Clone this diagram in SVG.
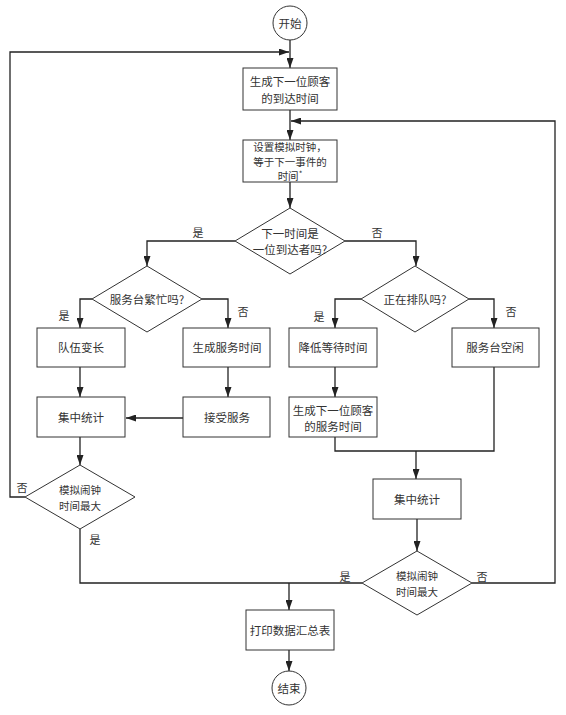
<svg xmlns="http://www.w3.org/2000/svg" width="566" height="715" viewBox="0 0 566 715">
<style>
.n{fill:#fff;stroke:#333;stroke-width:1}
.t{font-family:"Noto Sans CJK SC","Liberation Sans",sans-serif;font-size:11.5px;fill:#333;text-anchor:middle;dominant-baseline:central}
.s{font-size:10.5px}
.l{font-family:"Noto Sans CJK SC","Liberation Sans",sans-serif;font-size:11px;fill:#333;text-anchor:middle;dominant-baseline:central}
.c{fill:none;stroke:#222;stroke-width:1.3}
.a{marker-end:url(#ah)}
</style>
<defs>
<marker id="ah" markerUnits="userSpaceOnUse" markerWidth="10" markerHeight="7" refX="10" refY="3.5" orient="auto">
<path d="M0,0 L10,3.5 L0,7 z" fill="#222"/>
</marker>
</defs>
<rect width="566" height="715" fill="#fff"/>
<g id="connectors">
<path class="c a" d="M290,40 V68"/>
<path class="c a" d="M25,497 H10 V52 H289"/>
<path class="c a" d="M290,110 V140"/>
<path class="c a" d="M472,583 H555 V121 H291"/>
<path class="c a" d="M290,182 V208"/>
<path class="c a" d="M235,241 H147 V266"/>
<path class="c a" d="M345,241 H416 V266"/>
<path class="c a" d="M92,299 H80 V328"/>
<path class="c a" d="M202,299 H228 V328"/>
<path class="c a" d="M80,367 V397"/>
<path class="c a" d="M228,367 V397"/>
<path class="c a" d="M183,418 H126"/>
<path class="c a" d="M80,437 V465"/>
<path class="c" d="M80,529 V583 H362"/>
<path class="c a" d="M289,583 V610"/>
<path class="c a" d="M289,650 V671"/>
<path class="c a" d="M361,299 H335 V328"/>
<path class="c a" d="M469,299 H494 V328"/>
<path class="c a" d="M335,367 V397"/>
<path class="c" d="M335,437 V451 H494 V367"/>
<path class="c a" d="M416,451 V479"/>
<path class="c a" d="M417,519 V551"/>
</g>
<g id="labels">
<text class="l" x="198" y="232">是</text>
<text class="l" x="377" y="232">否</text>
<text class="l" x="64" y="315">是</text>
<text class="l" x="243" y="311">否</text>
<text class="l" x="319" y="316">是</text>
<text class="l" x="511" y="311">否</text>
<text class="l" x="22" y="487">否</text>
<text class="l" x="95" y="539">是</text>
<text class="l" x="345" y="576">是</text>
<text class="l" x="482" y="576">否</text>
</g>
<g id="start">
<circle class="n" cx="290" cy="23" r="17"/>
<text class="t" x="290" y="23">开始</text>
</g>
<g id="gen-arrival">
<rect class="n" x="243" y="68" width="94" height="42"/>
<text class="t" x="290" y="81">生成下一位顾客</text>
<text class="t" x="290" y="98">的到达时间</text>
</g>
<g id="set-clock">
<rect class="n" x="243" y="140" width="94" height="42"/>
<text class="t s" x="290" y="146.5">设置模拟时钟，</text>
<text class="t s" x="290" y="161">等于下一事件的</text>
<text class="t s" x="290" y="175.5">时间<tspan font-size="8" dy="-3">*</tspan></text>
</g>
<g id="is-arrival">
<polygon class="n" points="290,208 345,241 290,274 235,241"/>
<text class="t" x="290" y="233">下一时间是</text>
<text class="t" x="290" y="249">一位到达者吗?</text>
</g>
<g id="server-busy">
<polygon class="n" points="147,266 202,299 147,332 92,299"/>
<text class="t" x="147" y="299">服务台繁忙吗?</text>
</g>
<g id="queueing">
<polygon class="n" points="415,266 469,299 415,332 361,299"/>
<text class="t" x="415" y="299">正在排队吗?</text>
</g>
<g id="queue-longer">
<rect class="n" x="37" y="328" width="88" height="39"/>
<text class="t" x="81" y="347">队伍变长</text>
</g>
<g id="gen-service">
<rect class="n" x="183" y="328" width="87" height="39"/>
<text class="t" x="227" y="347">生成服务时间</text>
</g>
<g id="reduce-wait">
<rect class="n" x="289" y="328" width="88" height="39"/>
<text class="t" x="333" y="347">降低等待时间</text>
</g>
<g id="server-idle">
<rect class="n" x="452" y="328" width="87" height="39"/>
<text class="t" x="495" y="347">服务台空闲</text>
</g>
<g id="stats-left">
<rect class="n" x="37" y="397" width="88" height="40"/>
<text class="t" x="81" y="417">集中统计</text>
</g>
<g id="accept-service">
<rect class="n" x="183" y="397" width="87" height="40"/>
<text class="t" x="227" y="417">接受服务</text>
</g>
<g id="gen-next-service">
<rect class="n" x="289" y="397" width="88" height="40"/>
<text class="t" x="333" y="410">生成下一位顾客</text>
<text class="t" x="333" y="426">的服务时间</text>
</g>
<g id="max-left">
<polygon class="n" points="80,465 135,497 80,529 25,497"/>
<text class="t s" x="80" y="489.5">模拟闹钟</text>
<text class="t s" x="80" y="505">时间最大</text>
</g>
<g id="stats-right">
<rect class="n" x="373" y="479" width="88" height="40"/>
<text class="t" x="417" y="499">集中统计</text>
</g>
<g id="max-right">
<polygon class="n" points="417,551 472,583 417,615 362,583"/>
<text class="t s" x="417" y="575.5">模拟闹钟</text>
<text class="t s" x="417" y="591">时间最大</text>
</g>
<g id="print">
<rect class="n" x="246" y="610" width="88" height="40"/>
<text class="t" x="290" y="630">打印数据汇总表</text>
</g>
<g id="end">
<circle class="n" cx="289" cy="688" r="17"/>
<text class="t" x="289" y="688">结束</text>
</g>
</svg>
